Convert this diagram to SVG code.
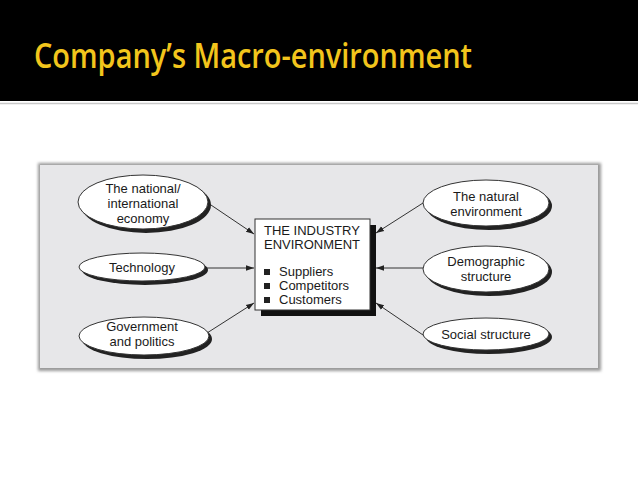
<svg xmlns="http://www.w3.org/2000/svg" width="638" height="479" viewBox="0 0 638 479">
<defs>
<style>
.t{font-family:"Liberation Sans",Arial,sans-serif;font-size:13px;fill:#1a1a1a;text-anchor:middle}
.b{font-family:"Liberation Sans",Arial,sans-serif;font-size:13px;fill:#1a1a1a}
.sh{fill:#222}
.el{fill:#fff;stroke:#333;stroke-width:1}
.c{stroke:#333;stroke-width:1;fill:none;marker-end:url(#ah)}
</style>
<marker id="ah" viewBox="0 0 10 10" refX="10" refY="5" markerWidth="8" markerHeight="8" markerUnits="userSpaceOnUse" orient="auto">
<path d="M0,1.5 L10,5 L0,8.5 z" fill="#222"/>
</marker>
<filter id="blur" x="-5%" y="-5%" width="110%" height="110%"><feGaussianBlur stdDeviation="1.5"/></filter>
</defs>
<rect width="638" height="479" fill="#fff"/>
<g id="header">
<rect x="0" y="0" width="638" height="101" fill="#000"/>
<line x1="0" y1="103.5" x2="638" y2="103.5" stroke="#c8c8c8" stroke-width="1.5"/>
<text x="34" y="68" font-family="'Open Sans',Lato,sans-serif" font-weight="600" font-size="35" fill="#f2c51c" textLength="438" lengthAdjust="spacingAndGlyphs">Company’s Macro-environment</text>
</g>
<g id="panel">
<rect x="38" y="163" width="563" height="208" fill="#9a9a9a" filter="url(#blur)"/>
<rect x="40" y="165" width="558" height="203" fill="#e7e7e9"/>
</g>
<g id="connectors">
<line class="c" x1="208" y1="203" x2="254" y2="234"/>
<line class="c" x1="207" y1="268" x2="254" y2="268"/>
<line class="c" x1="207" y1="333" x2="254" y2="303"/>
<line class="c" x1="423" y1="203" x2="376" y2="233"/>
<line class="c" x1="423" y1="268" x2="376" y2="268"/>
<line class="c" x1="423" y1="335" x2="376" y2="303"/>
</g>
<g id="industry">
<rect x="261" y="225" width="115" height="91" fill="#111"/>
<rect x="255" y="219" width="115" height="91" fill="#fff" stroke="#333" stroke-width="1"/>
<text class="b" x="264" y="235">THE INDUSTRY</text>
<text class="b" x="264" y="249">ENVIRONMENT</text>
<rect x="264" y="269" width="6" height="6" fill="#222"/>
<text class="b" x="279" y="276">Suppliers</text>
<rect x="264" y="283" width="6" height="6" fill="#222"/>
<text class="b" x="279" y="290">Competitors</text>
<rect x="264" y="297" width="6" height="6" fill="#222"/>
<text class="b" x="279" y="304">Customers</text>
</g>
<g id="economy">
<ellipse class="sh" cx="146" cy="205" rx="65" ry="28"/>
<ellipse class="el" cx="143" cy="202" rx="65" ry="27"/>
<text class="t" x="143" y="193">The national/</text>
<text class="t" x="143" y="208">international</text>
<text class="t" x="143" y="223">economy</text>
</g>
<g id="technology">
<ellipse class="sh" cx="145" cy="270" rx="63" ry="15"/>
<ellipse class="el" cx="142" cy="267" rx="63" ry="14"/>
<text class="t" x="142" y="272">Technology</text>
</g>
<g id="government">
<ellipse class="sh" cx="147" cy="339" rx="65" ry="20"/>
<ellipse class="el" cx="144" cy="336" rx="65" ry="19"/>
<text class="t" x="142" y="331">Government</text>
<text class="t" x="142" y="346">and politics</text>
</g>
<g id="natural">
<ellipse class="sh" cx="489" cy="206" rx="63" ry="24"/>
<ellipse class="el" cx="486" cy="203" rx="63" ry="23"/>
<text class="t" x="486" y="201">The natural</text>
<text class="t" x="486" y="216">environment</text>
</g>
<g id="demographic">
<ellipse class="sh" cx="489" cy="272" rx="63" ry="24"/>
<ellipse class="el" cx="486" cy="269" rx="63" ry="23"/>
<text class="t" x="486" y="266">Demographic</text>
<text class="t" x="486" y="281">structure</text>
</g>
<g id="social">
<ellipse class="sh" cx="489" cy="337" rx="63" ry="17"/>
<ellipse class="el" cx="486" cy="334" rx="63" ry="16"/>
<text class="t" x="486" y="339">Social structure</text>
</g>
</svg>
